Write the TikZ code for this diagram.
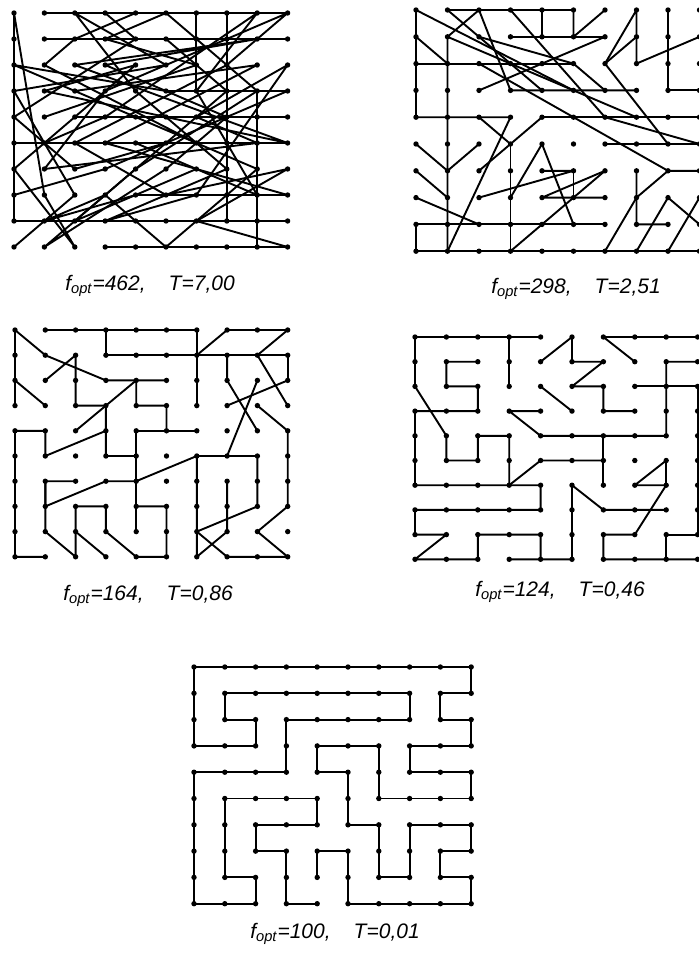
\documentclass[tikz,border=0pt]{standalone}
\usepackage{fontspec}
\setmainfont{Liberation Sans}

% 10x10 grid of cities: name, x0, y0, dx, dy (pixels)
\newcommand{\gridpanel}[5]{%
  \foreach \i in {0,...,9}
    \foreach \j in {0,...,9}
      \node[dot] (#1\i\j) at ({#2+\i*#4},{#3+\j*#5}) {};
}
% polyline through cities of one panel
\newcommand{\tourpath}[3]{%
  \draw[tourline] (#1#2.center) \foreach \p in {#3} {-- (#1\p.center)};
}

\begin{document}
\begin{tikzpicture}[x=0.5pt, y=-0.5pt,
    dot/.style={circle, fill=black, inner sep=0pt, minimum size=2.7pt},
    tourline/.style={line width=0.95pt, line join=round},
    caption/.style={font=\itshape\fontsize{10.5}{12}\selectfont}
  ]
  \useasboundingbox (0,0) rectangle (699,954);
  \clip (0,0) rectangle (699,954);

  \gridpanel{A}{14}{13}{30.4}{26}
  \gridpanel{B}{416}{10}{31.5}{26.8}
  \gridpanel{C}{15}{330}{30.3}{25.2}
  \gridpanel{D}{415}{337}{31.4}{24.7}
  \gridpanel{E}{194}{667}{30.8}{26.3}

  % T=7,00
  \tourpath{A}{10}{20,30,40,50,60,70,80,90}
  \tourpath{A}{11}{21,31,41,51,61,71,81,91}
  \tourpath{A}{24}{34,44,54,64,74,84,94}
  \tourpath{A}{05}{15,25,35,45,55,65,75,85,95}
  \tourpath{A}{08}{18,28,38,48,58,68,78,88,98}
  \tourpath{A}{39}{49,59,69,79,89,99}
  \tourpath{A}{00}{01,02,03,04,05,06,07,08}
  \tourpath{A}{60}{61,62,63}
  \tourpath{A}{70}{71,72,73,74,75,76,77,78}
  \tourpath{A}{83}{84,85,86,87,88,89}
  \tourpath{A}{00}{17,29,06,42,13,95,22,81,32,74,56,19,46,83,50,31,62,14}
  \tourpath{A}{09}{27,03,52,20,43,76,38,67,92,64,85,16,33,90,72,25,57,96,68,99}
  \tourpath{A}{40}{21,12,65,23,82,35,97,47,18,37,59,86,44,02,53,93,36,07}
  \tourpath{A}{30}{41,04,26,55,15,34,80,63,87,45,66,28,73,51}

  % T=2,51
  \tourpath{B}{10}{20,30,40,50}
  \tourpath{B}{40}{41}
  \tourpath{B}{50}{51,60}
  \tourpath{B}{31}{41,51,61}
  \tourpath{B}{34}{24,14,04,03,02,01,00,53}
  \tourpath{B}{01}{12}
  \tourpath{B}{20}{11,12,13,14,15,16,17,18,19}
  \tourpath{B}{02}{12,22,32,42,52}
  \tourpath{B}{10}{43}
  \tourpath{B}{20}{33,43,53,63,73}
  \tourpath{B}{62}{70,71,72,91}
  \tourpath{B}{62}{71}
  \tourpath{B}{80}{81,82,83,93}
  \tourpath{B}{44}{54,64,74,84,94}
  \tourpath{B}{65}{75,85,95}
  \tourpath{B}{09}{08,18,28,38,48,58,68}
  \tourpath{B}{09}{19,29,39,49,59,69,79,89,99}
  \tourpath{B}{35}{36,37,38,39}
  \tourpath{B}{56}{57}
  \tourpath{B}{96}{86,77,76,78,88}
  \tourpath{B}{87}{98}
  \tourpath{B}{69}{77}
  \tourpath{B}{79}{87}
  \tourpath{B}{89}{97}
  \tourpath{B}{66}{47,67}
  \tourpath{B}{06}{17}
  \tourpath{B}{07}{28}
  \tourpath{B}{25}{16,05}
  \tourpath{B}{19}{34}
  \tourpath{B}{26}{44}
  \tourpath{B}{27}{56,46}
  \tourpath{B}{37}{45,58}
  \tourpath{B}{39}{66}
  \tourpath{B}{24}{35}
  \tourpath{B}{21}{52}
  \tourpath{B}{30}{64,95}
  \tourpath{B}{62}{85}
  \tourpath{B}{52}{63}
  \tourpath{B}{11}{74}
  \tourpath{B}{22}{86}
  \tourpath{B}{61}{23}

  % T=0,86
  \tourpath{C}{10}{20,30,40,50,60,61,62,63}
  \tourpath{C}{03}{02,01,00,11,32,42,52}
  \tourpath{C}{30}{31,41,51,61,71,81,91,92}
  \tourpath{C}{61}{70,80,90,81,93}
  \tourpath{C}{12}{21,22,23,33,34,35,45}
  \tourpath{C}{02}{13}
  \tourpath{C}{24}{42,43,53,54}
  \tourpath{C}{64}{54,44,45,46,47,48}
  \tourpath{C}{19}{09,08,07,06,05,04,14,15,34}
  \tourpath{C}{26}{16,17,36,46,65,75,85,86,87}
  \tourpath{C}{16}{17,18,29,28,27,37,38,49,59,58,57,47}
  \tourpath{C}{28}{39}
  \tourpath{C}{71}{72,84}
  \tourpath{C}{73}{92}
  \tourpath{C}{82}{75}
  \tourpath{C}{83}{94,95,96,97,88,99,89,79,68}
  \tourpath{C}{65}{66,67,68,69,78,77,76}
  \tourpath{C}{68}{87}

  % T=0,46
  \tourpath{D}{40}{30,20,10,00,01,02,14,15,25,24,34,35,36}
  \tourpath{D}{30}{31,32}
  \tourpath{D}{21}{11,12,22,23,13,03,04,05,06,16,26,36,46,47,37,27,17,07,08,18,09,19,29,28,38,48,49,39}
  \tourpath{D}{36}{45,55,65}
  \tourpath{D}{41}{50,51,61,52,62,63,73}
  \tourpath{D}{42}{53}
  \tourpath{D}{43}{33,44,54,64,74,84,83,82,81,91}
  \tourpath{D}{71}{60,70,80,90}
  \tourpath{D}{72}{82,92}
  \tourpath{D}{64}{65,66}
  \tourpath{D}{49}{59,58,57,56,67,77,87}
  \tourpath{D}{85}{76,86,78,68,69,79,89,99}
  \tourpath{D}{85}{86}
  \tourpath{D}{89}{88,98}
  \tourpath{D}{92}{93,94,95,96,97,98}

  % T=0,01
  \tourpath{E}{48}{47,57,58,59,69,79,89,99,98,88,87,97,96,86,76,77,78,68,67,66,56,55,54,44,43,53,63,64,65,75,85,95,94,84,74,73,83,93,92,82,81,91,90,80,70,60,50,40,30,20,10,00,01,02,03,13,23,22,12,11,21,31,41,51,61,71,72,62,52,42,32,33,34,24,14,04,05,06,07,08,09,19,29,28,18,17,16,15,25,35,45,46,36,26,27,37,38,39,49}

  \node[caption] (capA) at (150,286) {f\textsubscript{opt}=462,\hspace{1.1em}T=7,00};
  \node[caption] (capB) at (576,289) {f\textsubscript{opt}=298,\hspace{1.1em}T=2,51};
  \node[caption] (capC) at (148,596) {f\textsubscript{opt}=164,\hspace{1.1em}T=0,86};
  \node[caption] (capD) at (560,592) {f\textsubscript{opt}=124,\hspace{1.1em}T=0,46};
  \node[caption] (capE) at (335,934) {f\textsubscript{opt}=100,\hspace{1.1em}T=0,01};
\end{tikzpicture}
\end{document}
